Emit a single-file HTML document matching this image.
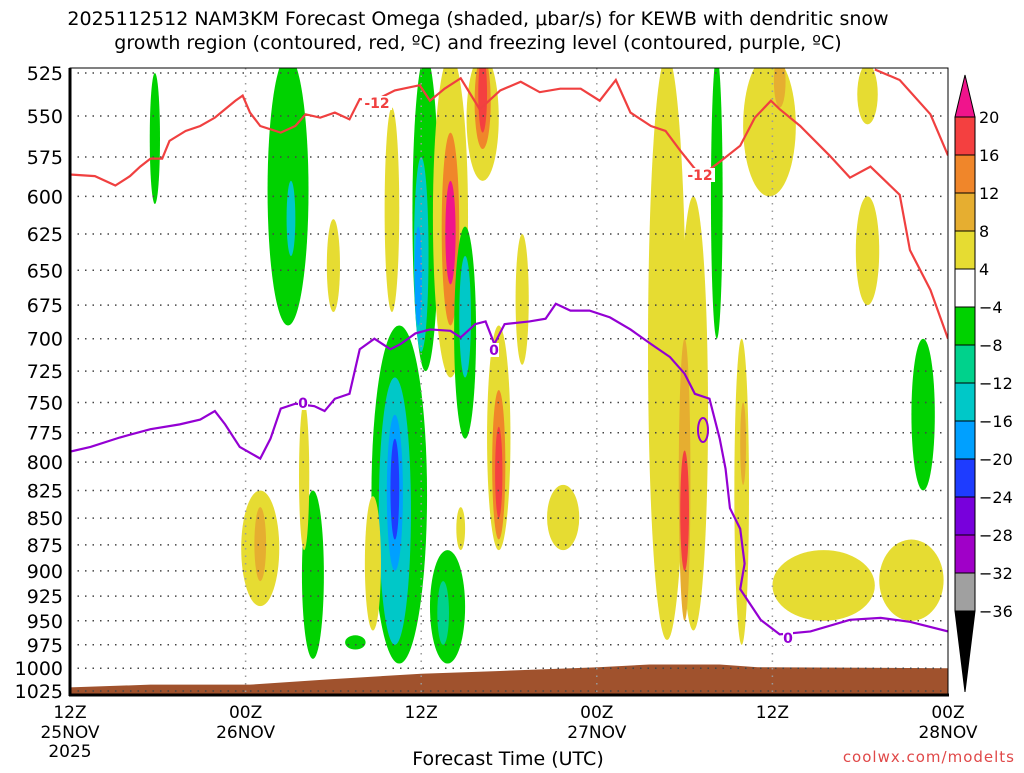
<!DOCTYPE html>
<html><head><meta charset="utf-8"><style>
body{margin:0;background:#fff;width:1024px;height:768px;overflow:hidden}
svg text{font-family:"DejaVu Sans","Liberation Sans",sans-serif}
</style></head><body>
<svg id="c" width="1024" height="768" xmlns="http://www.w3.org/2000/svg">
<text x="478" y="25" font-size="19" text-anchor="middle">2025112512 NAM3KM Forecast Omega (shaded, μbar/s) for KEWB with dendritic snow</text>
<text x="478" y="49" font-size="19" text-anchor="middle">growth region (contoured, red, ºC) and freezing level (contoured, purple, ºC)</text>
<g id="shade"></g>
<g id="grid"></g>
<g id="lines"></g>
<g id="axes"></g>
<g id="cbar"></g>
<text x="508" y="765" font-size="19" text-anchor="middle">Forecast Time (UTC)</text>
<text x="1015" y="762" font-size="15" fill="#e04848" text-anchor="end" letter-spacing="1">coolwx.com/modelts</text>
</svg>
<script>
const pTicks=[525,550,575,600,625,650,675,700,725,750,775,800,825,850,875,900,925,950,975,1000,1025];
const xTickHours=[0,12,24,36,48,60];
const xTickL1=["12Z","00Z","12Z","00Z","12Z","00Z"];
const xTickL2=["25NOV","26NOV","","27NOV","","28NOV"];
const cbLevels=[20,16,12,8,4,-4,-8,-12,-16,-20,-24,-28,-32,-36];
const cbColors=["#f44040","#f0862a","#e6ae30","#e6dc32","#ffffff","#00d200","#00d28c","#00c8c8","#00a0ff","#1e3cff","#7800dc","#a000c8","#a0a0a0"];
const blobVal=[-6,-6,-14,6,6,-6,-14,-18,6,14,22,-6,-14,6,14,18,-6,-14,-18,-22,-6,6,10,6,-6,-10,6,6,14,18,6,6,-6,6,6,10,18,-6,6,10,6,10,6,6,6,6,-6,6];
const blobHour=[5.8,14.9,15.1,18,22,24.3,24,23.8,26,26,26,27,27,28.2,28.2,28.2,22.5,22.2,22.2,22.2,16.6,13,13,16,25.8,25.5,20.7,29.3,29.3,29.3,30.9,33.7,19.5,40.8,42.6,42,42,44.2,45.9,46,47.8,48.5,54.5,54.5,51.5,57.5,58.3,26.7];
const blobHalfW=[0.35,1.4,0.3,0.45,0.5,0.9,0.5,0.25,1.2,0.6,0.35,0.75,0.4,1.1,0.55,0.3,1.9,1.1,0.55,0.3,0.75,1.3,0.4,0.35,1.2,0.4,0.55,0.8,0.45,0.25,0.45,1.1,0.7,1.3,1.0,0.4,0.3,0.4,0.5,0.2,1.8,0.4,0.7,0.8,3.5,2.2,0.8,0.3];
const blobPTop=[525,515,590,615,545,515,575,620,515,560,590,620,640,515,515,515,690,730,760,780,825,825,840,750,880,910,830,690,740,770,625,820,965,515,600,700,790,515,700,750,515,515,520,600,880,870,700,840];
const blobPBot=[605,690,640,680,680,725,710,690,730,690,660,780,730,590,570,560,995,975,900,870,990,935,910,880,995,975,960,880,870,850,720,880,980,970,960,950,900,700,975,820,600,545,555,675,950,950,825,880];
const dgzHour=[0,1.7,3.1,4.1,4.8,5.5,6.3,6.8,7.9,8.9,9.9,11.3,11.8,12.3,13,14.4,15.4,16.1,17.1,18.1,19.1,19.8,20.8,22.2,23.9,24.6,25.6,26.7,28,29.4,30.8,32.1,33.5,34.9,36.2,37.3,38.3,39.7,40.7,41.7,43.1,44.4,45.8,46.8,47.9,48.5,49.9,51.9,53.3,54.7,56.7,57.4,58.8,60];
const dgzP=[586,587,593,587,581,576,576,565,559,556,551,541,538,548,556,560,556,549,551,548,552,540,541,535,532,541,534,528,546,535,530,536,534,534,541,529,548,556,559,571,587,578,568,551,541,546,556,574,588,581,599,636,664,700];
const dgz2Hour=[55,56.7,58.8,60];
const dgz2P=[523,529,549,574];
const frzHour=[0,1.4,3.4,5.5,7.5,8.9,9.9,10.6,11.6,13,13.7,14.4,15.4,16.7,17.4,18.1,19.1,19.8,20.8,21.9,22.6,23.6,24.6,26,26.7,27.7,28.4,29,29.7,31.4,32.5,33.2,34.2,35.5,36.9,38.3,39.7,41,42,42.7,43.7,44.4,44.8,45.1,45.8,46.1,45.8,47.2,48.5,50.6,53.3,55.4,57.4,60];
const frzP=[791,787,779,772,768,764,757,768,787,797,780,755,751,753,757,747,743,708,700,708,704,696,693,694,699,689,687,704,689,687,685,674,679,679,684,693,704,714,727,743,747,780,806,841,860,893,918,949,964,961,949,947,951,961];
const groundHour=[0,5.5,12.3,17.8,24,29.4,36.1,39.6,44.4,47,60];
const groundP=[1021,1018,1018,1012,1006,1003,999,996,996,999,1000];

const X0=70,X1=948,Y0=73,Y1=691,T0=525,T1=1025;
const xs=h=>X0+h/60*(X1-X0);
const ys=p=>Y0+Math.log(p/T0)/Math.log(T1/T0)*(Y1-Y0);
const NS="http://www.w3.org/2000/svg";
function mk(tag,parent,attrs){const e=document.createElementNS(NS,tag);for(const k in attrs)e.setAttribute(k,attrs[k]);document.getElementById(parent).appendChild(e);return e;}
function colorOf(v){if(v>=20)return"#f0148c";if(v>=16)return cbColors[0];if(v>=12)return cbColors[1];if(v>=8)return cbColors[2];if(v>=4)return cbColors[3];
 if(v<=-36)return"#000";if(v<=-32)return cbColors[12];if(v<=-28)return cbColors[11];if(v<=-24)return cbColors[10];if(v<=-20)return cbColors[9];if(v<=-16)return cbColors[8];if(v<=-12)return cbColors[7];if(v<=-8)return cbColors[6];return cbColors[5];}
const defs=document.createElementNS(NS,"defs");document.getElementById("c").prepend(defs);
defs.innerHTML='<clipPath id="pc"><rect x="70" y="68" width="878" height="627"/></clipPath>';
document.getElementById("shade").setAttribute("clip-path","url(#pc)");
document.getElementById("lines").setAttribute("clip-path","url(#pc)");
for(let i=0;i<blobVal.length;i++){
 const yt=ys(blobPTop[i]),yb=ys(blobPBot[i]);
 const e=mk("ellipse","shade",{cx:xs(blobHour[i]),cy:(yt+yb)/2,rx:blobHalfW[i]/60*(X1-X0),ry:(yb-yt)/2,fill:colorOf(blobVal[i])});
 
 
}
let gd="M"+xs(0)+",695 ";groundHour.forEach((h,i)=>gd+="L"+xs(h)+","+ys(groundP[i])+" ");gd+="L"+xs(60)+",695 Z";
const g=mk("path","shade",{d:gd,fill:"#a0522d"});


pTicks.forEach(p=>{const l=mk("line","grid",{x1:X0,x2:X1,y1:ys(p),y2:ys(p),stroke:"#444","stroke-width":1.5,"stroke-dasharray":"1.5,6"});
 
 
 const t=mk("text","axes",{x:63,y:ys(p)+7,"font-size":19,"text-anchor":"end"});t.textContent=p;
 
 
});
xTickHours.forEach((h,i)=>{
 if(i>0&&i<5){const l=mk("line","grid",{x1:xs(h),x2:xs(h),y1:68,y2:695,stroke:"#999","stroke-width":1.5,"stroke-dasharray":"1.5,6"});
  
  }
 const t=mk("text","axes",{x:xs(h),y:718,"font-size":17,"text-anchor":"middle"});t.textContent=xTickL1[i];
 
 
 if(xTickL2[i]){const t2=mk("text","axes",{x:xs(h),y:738,"font-size":17,"text-anchor":"middle"});t2.textContent=xTickL2[i];
  
  }
});
const yr=mk("text","axes",{x:xs(0),y:757,"font-size":17,"text-anchor":"middle"});yr.textContent="2025";


function poly(hs,ps,col,name){let d="";hs.forEach((h,i)=>d+=(i?"L":"M")+xs(h)+","+ys(ps[i]));
 const e=mk("path","lines",{d:d,fill:"none",stroke:col,"stroke-width":2.2});
 
 }
poly(dgzHour,dgzP,"#f04040","dgz-contour-minus12");
poly(dgz2Hour,dgz2P,"#f04040","dgz-contour-minus12-b");
poly(frzHour,frzP,"#9400d3","freezing-level-contour");
const loop=mk("ellipse","lines",{cx:703,cy:430,rx:5,ry:12,fill:"none",stroke:"#9400d3","stroke-width":2});


[[377,108,"-12","#f04040"],[700,180,"-12","#f04040"],[303,408,"0","#9400d3"],[494,355,"0","#9400d3"],[788,643,"0","#9400d3"]].forEach(a=>{
 const r=mk("rect","lines",{x:a[0]-(a[2].length*5),y:a[1]-12,width:a[2].length*10,height:14,fill:"#fff"});
 
 
 const t=mk("text","lines",{x:a[0],y:a[1],"font-size":14,"font-weight":"bold",fill:a[3],"text-anchor":"middle"});t.textContent=a[2];
 
 });
const fr=mk("rect","axes",{x:70,y:68,width:878,height:627,fill:"none",stroke:"#000","stroke-width":1});


const la=mk("line","axes",{x1:70,x2:70,y1:68,y2:696,stroke:"#000","stroke-width":3});


const ba=mk("line","axes",{x1:69,x2:949,y1:695,y2:695,stroke:"#000","stroke-width":3});


const CB0=117,CBH=38,CX=955,CW=20;
const tri=mk("polygon","cbar",{points:`${CX},${CB0} ${CX+CW},${CB0} ${CX+CW/2},75`,fill:"#f0148c",stroke:"#000"});


cbColors.forEach((c,i)=>{const r=mk("rect","cbar",{x:CX,y:CB0+i*CBH,width:CW,height:CBH,fill:c,stroke:"#000","stroke-width":1});
 
 });
const tb=CB0+cbColors.length*CBH;
const tri2=mk("polygon","cbar",{points:`${CX},${tb} ${CX+CW},${tb} ${CX+CW/2},692`,fill:"#000",stroke:"#000"});


cbLevels.forEach((v,i)=>{const t=mk("text","cbar",{x:979,y:CB0+i*CBH+6,"font-size":16});t.textContent=v<0?"\u2212"+(-v):v;
 
 });
</script>
</body></html>
